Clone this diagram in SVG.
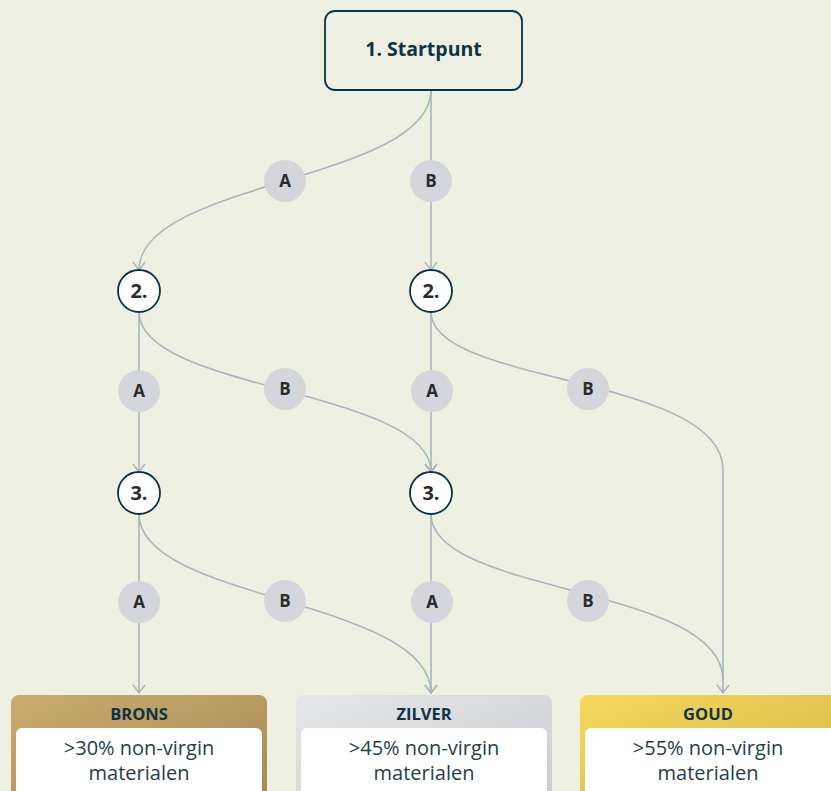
<svg xmlns="http://www.w3.org/2000/svg" width="831" height="791" viewBox="0 0 831 791">
  <defs>
    <linearGradient id="gBrons" x1="0" y1="0" x2="1" y2="1">
      <stop offset="0" stop-color="#cbac6d"/>
      <stop offset="1" stop-color="#a48955"/>
    </linearGradient>
    <linearGradient id="gZilver" x1="0" y1="0" x2="1" y2="1">
      <stop offset="0" stop-color="#e5e6e9"/>
      <stop offset="1" stop-color="#c9ccd1"/>
    </linearGradient>
    <linearGradient id="gGoud" x1="0" y1="0" x2="1" y2="1">
      <stop offset="0" stop-color="#f4d95c"/>
      <stop offset="1" stop-color="#d6b247"/>
    </linearGradient>
    <!-- open chevron arrowhead, tip at the path end -->
    <marker id="arrow" viewBox="0 0 10 14" refX="9" refY="7" markerWidth="10" markerHeight="14" markerUnits="userSpaceOnUse" orient="auto">
      <path d="M1,1 L9,7 L1,13" fill="none" stroke="#a9b4bb" stroke-width="1.5"/>
    </marker>
    <style>
      text { font-family: "Open Sans", "Noto Sans", "Liberation Sans", sans-serif; }
      .edge { fill: none; stroke: #a9b4bb; stroke-width: 1.6; }
      .arr { marker-end: url(#arrow); }
      .lbl circle { fill: #d5d6dc; }
      .lbl text { font-size: 17px; font-weight: 700; fill: #2b2b2e; text-anchor: middle; }
      .step circle { fill: #ffffff; stroke: #0d3347; stroke-width: 1.8; }
      .step text { font-size: 20px; font-weight: 700; fill: #2b2b2e; text-anchor: middle; }
      .tier .head { font-size: 16.5px; font-weight: 700; fill: #0d3347; text-anchor: middle; }
      .tier .body { font-size: 20px; fill: #24404e; text-anchor: middle; }
      .tier .inner { fill: #ffffff; }
    </style>
  </defs>

  <rect width="831" height="791" fill="#eef1e1"/>

  <!-- connectors -->
  <g id="connectors">
    <!-- from start -->
    <path class="edge arr" d="M431,90 C431,181 139,181 139,270"/>
    <path class="edge arr" d="M431,90 L431,270"/>
    <!-- from left step 2 -->
    <path class="edge arr" d="M139,312 L139,472"/>
    <path class="edge arr" d="M139,312 C139,391 431,389 431,472"/>
    <!-- from right step 2 -->
    <path class="edge arr" d="M431,312 L431,472"/>
    <path class="edge arr" d="M431,312 C431,385 723,375 723,470 L723,693"/>
    <!-- from left step 3 -->
    <path class="edge arr" d="M139,514 L139,693"/>
    <path class="edge arr" d="M139,514 C139,601 431,599 431,693"/>
    <!-- from right step 3 -->
    <path class="edge arr" d="M431,514 L431,693"/>
    <path class="edge" d="M431,514 C431,595 723,585 723,680"/>
  </g>

  <!-- start node -->
  <g id="start">
    <rect x="325" y="11" width="197" height="79" rx="10" fill="#eef1e1" stroke="#0d3347" stroke-width="1.8"/>
    <text x="423.5" y="56" font-size="19.5" font-weight="700" fill="#0d3347" text-anchor="middle">1. Startpunt</text>
  </g>

  <!-- choice labels -->
  <g id="lbl-1a" class="lbl"><circle cx="285" cy="181" r="21"/><text x="285" y="187">A</text></g>
  <g id="lbl-1b" class="lbl"><circle cx="431" cy="181" r="21"/><text x="431" y="187">B</text></g>

  <g id="lbl-2la" class="lbl"><circle cx="139" cy="391" r="21"/><text x="139" y="397">A</text></g>
  <g id="lbl-2lb" class="lbl"><circle cx="285" cy="389" r="21"/><text x="285" y="395">B</text></g>
  <g id="lbl-2ra" class="lbl"><circle cx="432" cy="391" r="21"/><text x="432" y="397">A</text></g>
  <g id="lbl-2rb" class="lbl"><circle cx="588" cy="389" r="21"/><text x="588" y="395">B</text></g>

  <g id="lbl-3la" class="lbl"><circle cx="139" cy="602" r="21"/><text x="139" y="608">A</text></g>
  <g id="lbl-3lb" class="lbl"><circle cx="285" cy="601" r="21"/><text x="285" y="607">B</text></g>
  <g id="lbl-3ra" class="lbl"><circle cx="432" cy="602" r="21"/><text x="432" y="608">A</text></g>
  <g id="lbl-3rb" class="lbl"><circle cx="588" cy="601" r="21"/><text x="588" y="607">B</text></g>

  <!-- step nodes -->
  <g id="step-2-left" class="step"><circle cx="139" cy="291" r="21"/><text x="139" y="298">2.</text></g>
  <g id="step-2-right" class="step"><circle cx="431" cy="291" r="21"/><text x="431" y="298">2.</text></g>
  <g id="step-3-left" class="step"><circle cx="139" cy="493" r="21"/><text x="139" y="500">3.</text></g>
  <g id="step-3-right" class="step"><circle cx="431" cy="493" r="21"/><text x="431" y="500">3.</text></g>

  <!-- outcome tiers -->
  <g id="tier-brons" class="tier">
    <rect x="11" y="695" width="256" height="110" rx="8" fill="url(#gBrons)"/>
    <rect class="inner" x="16" y="728" width="246" height="75" rx="6"/>
    <text class="head" x="139" y="720">BRONS</text>
    <text class="body" x="139" y="755">&gt;30% non-virgin</text>
    <text class="body" x="139" y="780">materialen</text>
  </g>
  <g id="tier-zilver" class="tier">
    <rect x="296" y="695" width="256" height="110" rx="8" fill="url(#gZilver)"/>
    <rect class="inner" x="301" y="728" width="246" height="75" rx="6"/>
    <text class="head" x="424" y="720">ZILVER</text>
    <text class="body" x="424" y="755">&gt;45% non-virgin</text>
    <text class="body" x="424" y="780">materialen</text>
  </g>
  <g id="tier-goud" class="tier">
    <rect x="580" y="695" width="262" height="110" rx="8" fill="url(#gGoud)"/>
    <rect class="inner" x="585" y="728" width="252" height="75" rx="6"/>
    <text class="head" x="708" y="720">GOUD</text>
    <text class="body" x="708" y="755">&gt;55% non-virgin</text>
    <text class="body" x="708" y="780">materialen</text>
  </g>
</svg>
